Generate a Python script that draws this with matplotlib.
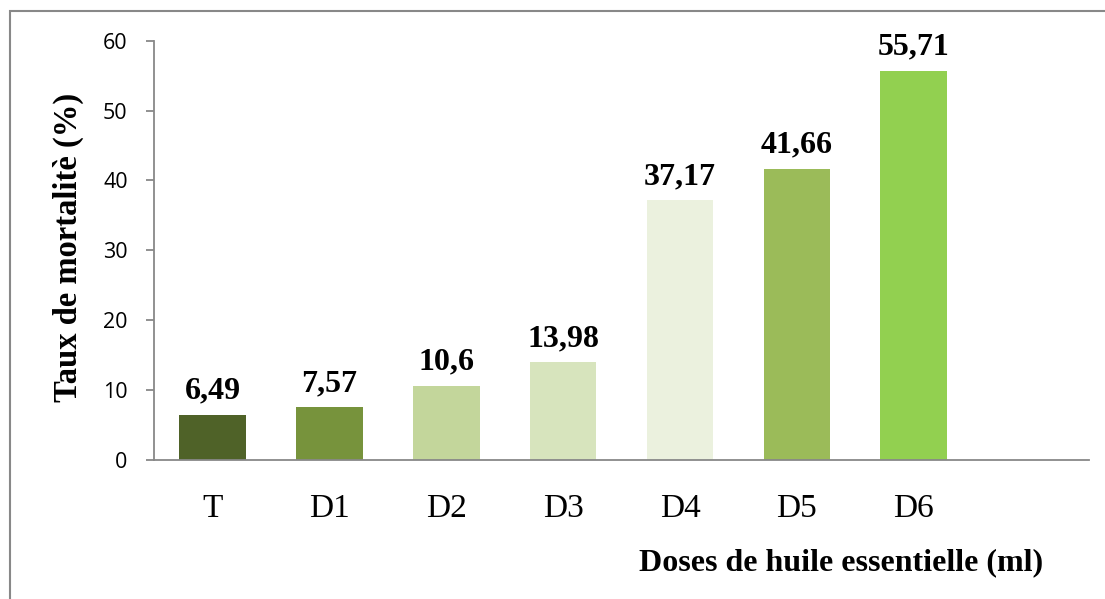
import matplotlib.pyplot as plt
from matplotlib.patches import Rectangle

# données
categories = ['T', 'D1', 'D2', 'D3', 'D4', 'D5', 'D6', '']
taux = [6.49, 7.57, 10.6, 13.98, 37.17, 41.66, 55.71, None]
etiquettes = ['6,49', '7,57', '10,6', '13,98', '37,17', '41,66', '55,71', '']
couleurs = ['#4F6228', '#77933C', '#C3D69B', '#D7E4BD', '#EBF1DE', '#9BBB59', '#92D050', '#FFFFFF']
yticks = [0, 10, 20, 30, 40, 50, 60]

fig = plt.figure(figsize=(11.05, 5.99), dpi=100)
ax = fig.add_axes([0.1394, 0.2321, 0.8461, 0.7000])

xs = list(range(len(categories)))
vals = [v if v is not None else 0 for v in taux]
bars = ax.bar(xs, vals, width=0.57, color=couleurs)

for x, v, lab in zip(xs, taux, etiquettes):
    if v is None:
        continue
    ax.annotate(lab, (x, v), xytext=(0, 6.5), textcoords='offset points',
                ha='center', va='bottom', fontsize=23, fontweight='bold',
                family='Liberation Serif')

ax.set_xlim(-0.5, len(categories) - 0.5)
ax.set_ylim(0, 60)
ax.set_yticks(yticks)
ax.set_yticklabels([str(t) for t in yticks], fontsize=15.5, family='Open Sans')
ax.set_xticks(xs)
ax.set_xticklabels(categories, fontsize=24, family='Liberation Serif')

gris = '#888888'
for s in ['top', 'right']:
    ax.spines[s].set_visible(False)
for s in ['left', 'bottom']:
    ax.spines[s].set_color(gris)
    ax.spines[s].set_linewidth(1.3)
ax.tick_params(axis='y', length=6, width=1.3, color=gris, pad=13)
ax.tick_params(axis='x', length=0, pad=24)

fig.text(68 / 1105, 1 - 247 / 599, 'Taux de mortalitè (%)', rotation=90,
         ha='center', va='center', fontsize=23.5, fontweight='bold',
         family='Liberation Serif')
fig.text(1043 / 1105, 1 - 563 / 599, 'Doses de huile essentielle (ml)',
         ha='right', va='center', fontsize=23, fontweight='bold',
         family='Liberation Serif')

# cadre du graphique
fig.patches.append(Rectangle((9.5 / 1105, -0.05), 1.1, 1 - 10.5 / 599 + 0.05,
                             transform=fig.transFigure, fill=False,
                             edgecolor=gris, linewidth=1.5))

fig.savefig('out.png', dpi=100)
